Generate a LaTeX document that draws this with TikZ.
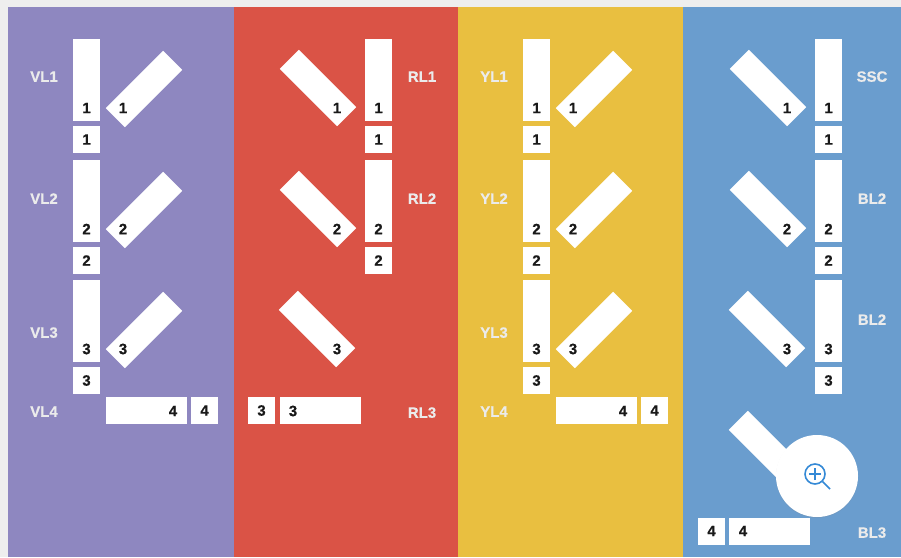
\documentclass[tikz,border=0pt]{standalone}
\usepackage{fontspec}
\setmainfont{Liberation Sans}
\newfontfamily\chanfont[FakeBold=0.6]{Liberation Sans Bold}
\usepackage{xcolor}
\usetikzlibrary{positioning, shadows}
\definecolor{laneviolet}{RGB}{142,135,192}
\definecolor{lanered}{RGB}{218,83,70}
\definecolor{laneyellow}{RGB}{233,191,64}
\definecolor{laneblue}{RGB}{106,157,206}
\definecolor{pagegray}{RGB}{238,238,238}
\definecolor{zoomblue}{RGB}{52,137,214}
\tikzset{
  lane/.style={
    rectangle, anchor=north west, minimum height=550pt, inner sep=0pt
  },
  upbar/.style={
    rectangle, fill=white, minimum width=27pt, minimum height=82pt, inner sep=0pt
  },
  flatbar/.style={
    rectangle, fill=white, minimum width=81pt, minimum height=27pt, inner sep=0pt
  },
  risebar/.style={flatbar, rotate=45},
  fallbar/.style={flatbar, rotate=-45},
  tag/.style={
    rectangle, fill=white, minimum width=27pt, minimum height=27pt, inner sep=0pt,
    font=\chanfont\fontsize{15}{15}\selectfont, text=black!90
  },
  digit/.style={inner sep=0pt, yshift=-1pt, font=\chanfont\fontsize{15}{15}\selectfont, text=black!90},
  chan/.style={inner sep=0pt, yshift=-0.6pt, font=\chanfont\fontsize{15}{15}\selectfont, text=white!92!black}
}
\begin{document}
\begin{tikzpicture}[x=1pt, y=-1pt]
    \useasboundingbox (0,0) rectangle (901,557);
    \fill[pagegray] (0,0) rectangle (901,557);
    % Four coloured lanes
    \node[lane, fill=laneviolet, minimum width=226pt] (violet) at (8,7) {};
    \node[lane, fill=lanered, minimum width=224pt] (red) at (234,7) {};
    \node[lane, fill=laneyellow, minimum width=225pt] (yellow) at (458,7) {};
    \node[lane, fill=laneblue, minimum width=218pt] (blue) at (683,7) {};

    % Violet lane
    \node[chan] (vl1) at (44,76) {VL1};
    \node[upbar] (vbar1) at (86.5,80) {};
    \node[digit] (vnum1) at (86.5,107) {1};
    \node[risebar] (vtilt1) at (144,89) {};
    \node[digit] (vdig1) at (123,107) {1};
    \node[tag] (vtag1) at (86.5,139.5) {1};
    \node[chan] (vl2) at (44,198) {VL2};
    \node[upbar] (vbar2) at (86.5,201) {};
    \node[digit] (vnum2) at (86.5,228) {2};
    \node[risebar] (vtilt2) at (144,210) {};
    \node[digit] (vdig2) at (123,228) {2};
    \node[tag] (vtag2) at (86.5,260.5) {2};
    \node[chan] (vl3) at (44,332) {VL3};
    \node[upbar] (vbar3) at (86.5,321) {};
    \node[digit] (vnum3) at (86.5,348) {3};
    \node[risebar] (vtilt3) at (144,330) {};
    \node[digit] (vdig3) at (123,348) {3};
    \node[tag] (vtag3) at (86.5,380.5) {3};
    \node[chan] (vl4) at (44,411) {VL4};
    \node[flatbar] (vflat) at (146.5,410.5) {};
    \node[digit] (vnum4) at (173,410) {4};
    \node[tag] (vtag4) at (204.5,410.5) {4};

    % Red lane
    \node[chan] (rl1) at (422,76) {RL1};
    \node[upbar] (rbar1) at (378.5,80) {};
    \node[digit] (rnum1) at (378.5,107) {1};
    \node[fallbar] (rtilt1) at (318,88) {};
    \node[digit] (rdig1) at (337,107) {1};
    \node[tag] (rtag1) at (378.5,139.5) {1};
    \node[chan] (rl2) at (422,198) {RL2};
    \node[upbar] (rbar2) at (378.5,201) {};
    \node[digit] (rnum2) at (378.5,228) {2};
    \node[fallbar] (rtilt2) at (318,209) {};
    \node[digit] (rdig2) at (337,228) {2};
    \node[tag] (rtag2) at (378.5,260.5) {2};
    \node[fallbar] (rtilt3) at (317,329) {};
    \node[digit] (rdig3) at (337,348) {3};
    \node[chan] (rl3) at (422,412) {RL3};
    \node[tag] (rtag3) at (261.5,410.5) {3};
    \node[flatbar] (rflat) at (320,410.5) {};
    \node[digit] (rnum3) at (293,410) {3};

    % Yellow lane
    \node[chan] (yl1) at (494,76) {YL1};
    \node[upbar] (ybar1) at (536.5,80) {};
    \node[digit] (ynum1) at (536.5,107) {1};
    \node[risebar] (ytilt1) at (594,89) {};
    \node[digit] (ydig1) at (573,107) {1};
    \node[tag] (ytag1) at (536.5,139.5) {1};
    \node[chan] (yl2) at (494,198) {YL2};
    \node[upbar] (ybar2) at (536.5,201) {};
    \node[digit] (ynum2) at (536.5,228) {2};
    \node[risebar] (ytilt2) at (594,210) {};
    \node[digit] (ydig2) at (573,228) {2};
    \node[tag] (ytag2) at (536.5,260.5) {2};
    \node[chan] (yl3) at (494,332) {YL3};
    \node[upbar] (ybar3) at (536.5,321) {};
    \node[digit] (ynum3) at (536.5,348) {3};
    \node[risebar] (ytilt3) at (594,330) {};
    \node[digit] (ydig3) at (573,348) {3};
    \node[tag] (ytag3) at (536.5,380.5) {3};
    \node[chan] (yl4) at (494,411) {YL4};
    \node[flatbar] (yflat) at (596.5,410.5) {};
    \node[digit] (ynum4) at (623,410) {4};
    \node[tag] (ytag4) at (654.5,410.5) {4};

    % Blue lane
    \node[chan] (ssc) at (872,76) {SSC};
    \node[upbar] (bbar1) at (828.5,80) {};
    \node[digit] (bnum1) at (828.5,107) {1};
    \node[fallbar] (btilt1) at (768,88) {};
    \node[digit] (bdig1) at (787,107) {1};
    \node[tag] (btag1) at (828.5,139.5) {1};
    \node[chan] (bl2) at (872,198) {BL2};
    \node[upbar] (bbar2) at (828.5,201) {};
    \node[digit] (bnum2) at (828.5,228) {2};
    \node[fallbar] (btilt2) at (768,209) {};
    \node[digit] (bdig2) at (787,228) {2};
    \node[tag] (btag2) at (828.5,260.5) {2};
    \node[chan] (blb2) at (872,319) {BL2};
    \node[upbar] (bbar3) at (828.5,321) {};
    \node[digit] (bnum3) at (828.5,348) {3};
    \node[fallbar] (btilt3) at (767,329) {};
    \node[digit] (bdig3) at (787,348) {3};
    \node[tag] (btag3) at (828.5,380.5) {3};
    \node[fallbar] (btilt4) at (767,449) {};
    \node[chan] (bl3) at (872,532) {BL3};
    \node[tag] (btag4) at (711.5,531) {4};
    \node[flatbar] (bflat) at (769.5,531) {};
    \node[digit] (bnum4) at (743,530) {4};

    % Zoom button on top
    \node[circle, fill=white, minimum size=82pt, inner sep=0pt,
      drop shadow={shadow xshift=0pt, shadow yshift=-1pt, opacity=0.15}] (zoombtn) at (817,476) {};
    \node[circle, draw=zoomblue, line width=1.6pt, minimum size=20pt, inner sep=0pt] (lens) at (815,474) {};
    \coordinate (grip) at (830,489);
    \draw[zoomblue, line width=1.7pt] (lens.south east) -- (grip);
    \draw[zoomblue, line width=1.4pt] ([xshift=-6pt]lens.center) -- ([xshift=6pt]lens.center);
    \draw[zoomblue, line width=1.4pt] ([yshift=-6pt]lens.center) -- ([yshift=6pt]lens.center);
  \end{tikzpicture}
\end{document}
